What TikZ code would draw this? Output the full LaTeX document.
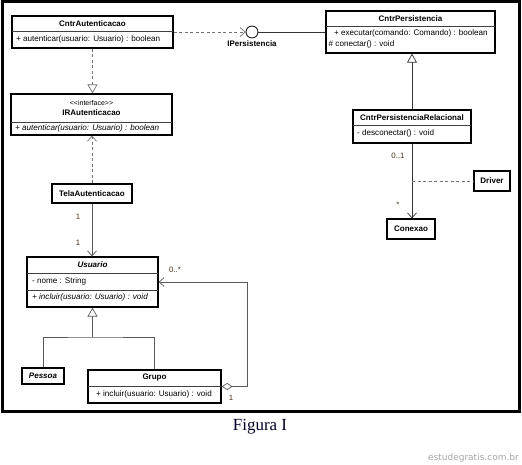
\documentclass[tikz,border=0pt]{standalone}
\usepackage{fontspec}
\setmainfont{Liberation Sans}
\newfontfamily\capfont{Liberation Serif}
\newfontfamily\wmfont{DejaVu Sans}
\usetikzlibrary{arrows.meta}
\begin{document}
\begin{tikzpicture}[x=1pt,y=-1pt,
  cls/.style={draw=black, line width=1.3pt, fill=white, inner sep=0pt},
  divl/.style={draw=black!75, line width=0.5pt},
  txt/.style={font=\fontsize{8.1}{9}\selectfont, inner sep=0pt},
  nm/.style={font=\fontsize{8}{9}\selectfont\bfseries, inner sep=0pt},
  mult/.style={font=\fontsize{7.8}{9}\selectfont, inner sep=0pt, text=black!60!brown},
  conn/.style={draw=black!65, line width=0.7pt},
  dashconn/.style={draw=black!55, line width=0.7pt, dash pattern=on 3pt off 2.5pt},
  vtip/.style={-{Straight Barb[length=5pt,width=9pt]}},
  tri/.style={-{Triangle[open,length=9pt,width=10pt,fill=white]}}
]
\useasboundingbox (0,0) rectangle (522,465);
\fill[white] (0,0) rectangle (522,465);
\draw[line width=3pt] (2.5,2) rectangle (519,411.5);

% ---- CntrAutenticacao
\node[cls, minimum width=161pt, minimum height=32pt] (ca) at (92.5,32) {};
\draw[divl] (12,31) -- (173,31);
\node[nm] (caN) at (92.5,23.5) {CntrAutenticacao};
\node[txt, anchor=west] (caM) at (16,39.5) {+ autenticar(usuario: Usuario) : boolean};

% ---- IRAutenticacao
\node[cls, minimum width=161pt, minimum height=41pt] (ir) at (91.5,114.5) {};
\draw[divl] (11,122) -- (172,122);
\node[font=\fontsize{7}{8}\selectfont, inner sep=0pt] (irS) at (91.5,103) {{<}{<}interface{>}{>}};
\node[nm] (irN) at (91.5,113) {IRAutenticacao};
\node[txt, anchor=west, font=\fontsize{8.1}{9}\selectfont\itshape] (irM) at (15,128.5) {+ autenticar(usuario: Usuario) : boolean};

% ---- TelaAutenticacao
\node[cls, minimum width=80pt, minimum height=19pt] (tela) at (92,193.5) {};
\node[nm] (telaN) at (92,193.5) {TelaAutenticacao};

% ---- Usuario
\node[cls, minimum width=131pt, minimum height=50pt] (usu) at (92.5,282) {};
\draw[divl] (27,273) -- (158,273);
\draw[divl] (27,290) -- (158,290);
\node[nm, font=\fontsize{8}{9}\selectfont\bfseries\itshape] (usuN) at (92.5,265) {Usuario};
\node[txt, anchor=west] (usuA) at (32,281.5) {- nome : String};
\node[txt, anchor=west, font=\fontsize{8.1}{9}\selectfont\itshape] (usuM) at (32,297.5) {+ incluir(usuario: Usuario) : void};

% ---- Pessoa
\node[cls, minimum width=42pt, minimum height=16pt] (pes) at (43,376) {};
\node[nm, font=\fontsize{8}{9}\selectfont\bfseries\itshape] (pesN) at (43,376) {Pessoa};

% ---- Grupo
\node[cls, minimum width=133pt, minimum height=33pt] (gru) at (154.5,386.5) {};
\draw[divl] (88,386) -- (221,386);
\node[nm] (gruN) at (154.5,377.5) {Grupo};
\node[txt, anchor=west] (gruM) at (96,394.5) {+ incluir(usuario: Usuario) : void};

% ---- CntrPersistencia
\node[cls, minimum width=169pt, minimum height=42pt] (cp) at (410.5,32) {};
\draw[divl] (326,26) -- (495,26);
\node[nm] (cpN) at (410.5,19) {CntrPersistencia};
\node[txt, anchor=west] (cpM1) at (334,33.5) {+ executar(comando: Comando) : boolean};
\node[txt, anchor=west] (cpM2) at (328.5,44) {\# conectar() : void};

% ---- CntrPersistenciaRelacional
\node[cls, minimum width=118pt, minimum height=33pt] (cpr) at (412,126.5) {};
\draw[divl] (353,125) -- (471,125);
\node[nm] (cprN) at (412,117.5) {CntrPersistenciaRelacional};
\node[txt, anchor=west] (cprM) at (357,133.5) {- desconectar() : void};

% ---- Conexao
\node[cls, minimum width=48pt, minimum height=20pt] (conx) at (411,229) {};
\node[nm] (conxN) at (411,229) {Conexao};

% ---- Driver
\node[cls, minimum width=36pt, minimum height=20pt] (drv) at (492,181) {};
\node[nm] (drvN) at (492,181) {Driver};

% ---- interface lollipop
\node[draw=black, line width=0.8pt, circle, minimum size=12pt, inner sep=0pt, fill=white] (ipc) at (252,32) {};
\node[nm] (ipcN) at (252,43.5) {IPersistencia};

% ---- connectors
\draw[dashconn, vtip] (ca.east) -- (ipc.west);
\draw[conn, draw=black!80] (ipc.east) -- (cp.west);
\draw[dashconn, tri] (ca.south) -- (ca.south |- ir.north);
\draw[dashconn, vtip] (tela.north) -- (tela.north |- ir.south);
\draw[conn, vtip] (tela.south) -- (tela.south |- usu.north);
\node[mult] (m1) at (78,217) {1};
\node[mult] (m2) at (78,243) {1};

\coordinate (gj) at (92.5,337);
\draw[conn, tri] (gj) -- (usu.south);
\draw[conn] (pes.north) |- (gj) -| (gru.north);

\draw[conn, {Diamond[open,length=11pt,width=7pt,fill=white]}-{Straight Barb[length=5pt,width=9pt]}] (gru.east) -- ++(26,0) |- (usu.east);
\node[mult] (m3) at (175,270) {0..*};
\node[mult] (m4) at (231,398) {1};

\draw[conn, draw=black!80, tri] (cpr.north) -- (cpr.north |- cp.south);
\draw[conn, draw=black!80, vtip] (cpr.south) -- (cpr.south |- conx.north);
\node[mult] (m5) at (398,156) {0..1};
\node[mult] (m6) at (398,205) {*};
\coordinate (ac) at (412,181);
\draw[dashconn] (ac) -- (drv.west);

% ---- caption and watermark
\node[font=\capfont\fontsize{17}{20}\selectfont, text=black!85!blue, inner sep=0pt, anchor=base] (cap) at (260,430) {Figura I};
\node[font=\wmfont\fontsize{9}{11}\selectfont, text=black!35, inner sep=0pt, anchor=base east] (wm) at (519,460) {estudegratis.com.br};
\end{tikzpicture}
\end{document}
